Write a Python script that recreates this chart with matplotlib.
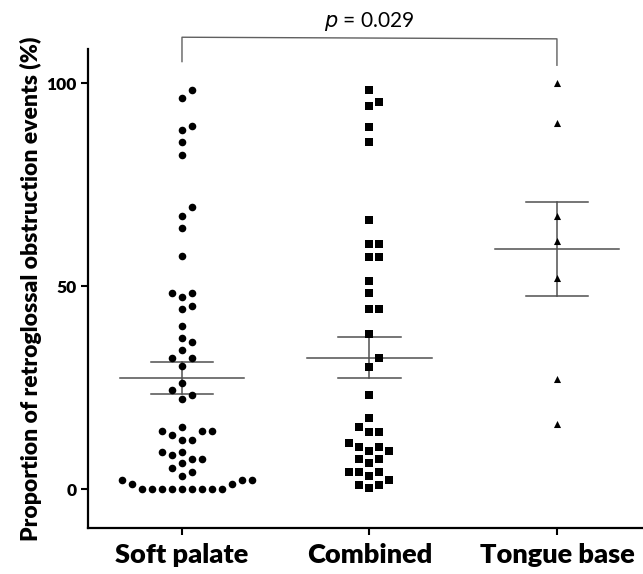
import numpy as np
import matplotlib.pyplot as plt

groups = ["Soft palate", "Combined", "Tongue base"]
soft_palate = [98.3, 96.4, 89.4, 88.4, 85.4, 82.3, 69.4, 67.3, 64.4, 57.4,
               48.4, 47.4, 48.4, 44.3, 45.2, 40.2, 36.3, 37.2, 34.2, 32.3, 32.3,
               30.2, 26.2, 24.4, 23.2, 22.2,
               15.3, 14.2, 13.4, 12.2, 12.2, 14.2, 14.2, 9.2, 9.2, 8.4, 7.3, 6.3,
               7.3, 5.2, 4.3, 3.2, 2.2,
               2.2, 1.2, 0, 0, 0, 0, 0, 0, 0, 0, 0, 1.2, 2.2]
combined = [98.4, 95.4, 94.4, 89.2, 85.4, 66.3, 60.4, 60.4, 57.2, 57.2,
            51.3, 48.4, 44.3, 44.3, 38.3, 32.2, 30.1, 23.2, 17.6, 15.3, 14.1,
            14.1, 10.3, 9.4, 9.4, 10.3, 11.3, 7.4, 6.3, 7.4, 4.3, 4.3, 3.2, 4.3,
            1.1, 0.2, 1.1, 2.2]
tongue_base = [100, 90.2, 67.2, 61.2, 52.1, 27.0, 16.0]
series = [soft_palate, combined, tongue_base]
markers = ["o", "s", "^"]
msizes = [30, 30, 26]
p_text = "$\\it{p}$ = 0.029"

plt.rcParams['font.family'] = ['Lato', 'DejaVu Sans']

fig = plt.figure(figsize=(6.43, 5.74), dpi=100)
ax = fig.add_axes([88 / 643, 46 / 574, 1 - 88 / 643, (528 - 49) / 574])
ax.set_xlim(-0.5013, 2.459)
ax.set_ylim(-9.6, 108.4)


def swarm(vals, xc):
    # greedy beeswarm on a fixed grid of slots, in pixel space
    ypx = ax.transData.transform(np.column_stack([np.full(len(vals), xc), vals]))[:, 1]
    step = 10 / (ax.transData.transform((1, 0))[0] - ax.transData.transform((0, 0))[0])
    order = np.argsort(vals, kind="stable")
    placed = []
    offs = np.zeros(len(vals))
    for i in order:
        for k in [0, 1, -1, 2, -2, 3, -3, 4, -4, 5, -5, 6, -6, 7, -7, 8, -8]:
            if all(not (s == k and abs(ypx[i] - yp) < 9) for s, yp in placed):
                break
        placed.append((k, ypx[i]))
        offs[i] = k * step
    return xc + offs


for xc, vals, m, s in zip(range(3), series, markers, msizes):
    vals = np.array(vals, dtype=float)
    xs = swarm(vals, xc)
    ax.scatter(xs, vals, marker=m, s=s, color="black", linewidths=0, zorder=3)
    mean = vals.mean()
    sem = vals.std(ddof=1) / np.sqrt(len(vals))
    lc = "#505050"
    ax.plot([xc - 0.333, xc + 0.333], [mean, mean], color=lc, lw=1.1, zorder=2)
    ax.plot([xc - 0.167, xc + 0.167], [mean + sem] * 2, color=lc, lw=1.1, zorder=2)
    ax.plot([xc - 0.167, xc + 0.167], [mean - sem] * 2, color=lc, lw=1.1, zorder=2)
    ax.plot([xc, xc], [mean - sem, mean + sem], color=lc, lw=1.1, zorder=2)

# significance bracket
ax.plot([0, 0, 2, 2], [105.3, 111.3, 110.9, 104.4], color="#606060", lw=1,
        clip_on=False)
ax.text(1, 112.3, p_text, ha="center", va="bottom", fontsize=15, clip_on=False)

for side in ["top", "right"]:
    ax.spines[side].set_visible(False)
ax.spines["left"].set_linewidth(1.6)
ax.spines["bottom"].set_linewidth(1.6)
ax.set_xticks(range(3))
ax.set_xticklabels(groups, fontsize=19.5, fontweight="heavy")
ax.set_yticks([0, 50, 100])
ax.set_yticklabels(["0", "50", "100"], fontsize=12.5, fontweight="heavy")
ax.tick_params(axis="both", direction="out", length=5, width=1.5)
ax.tick_params(axis="y", pad=3)
ax.tick_params(axis="x", pad=6)
ax.set_ylabel("Proportion of retroglossal obstruction events (%)", fontsize=16.5,
              fontweight="heavy", labelpad=3)

fig.savefig("out.png", dpi=100)
